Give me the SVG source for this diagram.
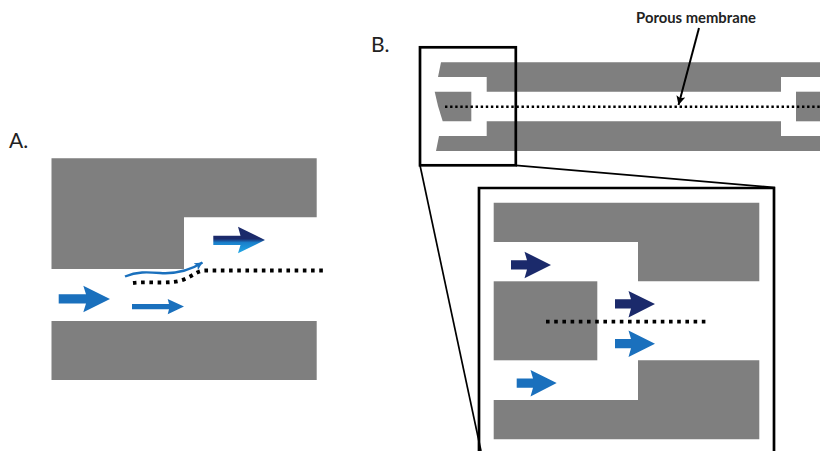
<svg xmlns="http://www.w3.org/2000/svg" width="820" height="451" viewBox="0 0 820 451">
<style>
.g{fill:#7f7f7f}
.blue{fill:#1a70bd}
.navy{fill:#1b2a6b}
.lab{font-family:"Lato","Open Sans",sans-serif;font-size:21px;fill:#222}
.box{fill:none;stroke:#000;stroke-width:2.7}
.lead{fill:none;stroke:#000;stroke-width:1.7}
.dots{fill:none;stroke:#000;stroke-width:3.8;stroke-dasharray:3.6 4.6}
</style>
<defs>
<linearGradient id="grad" x1="0" y1="0" x2="0" y2="1">
<stop offset="0" stop-color="#1b2a6b"/>
<stop offset="0.46" stop-color="#1b2a6b"/>
<stop offset="0.6" stop-color="#1a80cc"/>
<stop offset="1" stop-color="#22a9e6"/>
</linearGradient>
<marker id="tip" markerUnits="userSpaceOnUse" markerWidth="10" markerHeight="10" refX="8" refY="4" orient="auto">
<path d="M0 0L8 4L0 8L2 4Z" fill="#1a70bd"/>
</marker>
<marker id="pt" markerUnits="userSpaceOnUse" markerWidth="12" markerHeight="12" refX="9" refY="5" orient="auto">
<path d="M0 0.5L9 5L0 9.5L2 5Z" fill="#000"/>
</marker>
</defs>
<g id="panel-a">
<text class="lab" x="9" y="148">A.</text>
<path id="a-top" class="g" d="M51.5 158.3H316.7V217.3H184V269H51.5Z"/>
<rect id="a-bottom" class="g" x="51.5" y="321" width="265.2" height="59"/>
<path class="blue" d="M58.7 294.3H86L83.3 285.7L110 299L83.3 312.3L86 303.6H58.7Z"/>
<path class="blue" d="M132 304H169L167.7 299L184 306.5L167.7 314.3L169 309.3H132Z"/>
<path fill="url(#grad)" d="M213.3 235.7H240.5L238 226.7L265 240L238 253.3L240.5 245H213.3Z"/>
<path d="M125 276.5C137 271.5 147 272 160 273C175 274 189 271 202.5 262.5" fill="none" stroke="#1a70bd" stroke-width="2.4" marker-end="url(#tip)"/>
<path class="dots" d="M133 283C150 281 172 285 185 279C194 275 198 270.5 205 270.5H326"/>
</g>
<g id="panel-b">
<text class="lab" x="371" y="52">B.</text>
<text x="696" y="23" text-anchor="middle" font-family="Lato,'Open Sans',sans-serif" font-size="14.8" font-weight="700" fill="#222">Porous membrane</text>
<path class="g" d="M441 62.3H820V77H781V91.7H486.7V77H438Z"/>
<path class="g" d="M439 136H486.7V121.3H781V136H820V151H436Z"/>
<path class="g" d="M434.7 91.7H471.3V121.3H442.7L438 106Z"/>
<rect class="g" x="796" y="91.7" width="24" height="29.6"/>
<path d="M445 106.7H820" fill="none" stroke="#000" stroke-width="2.6" stroke-dasharray="2.4 2.7"/>
<path d="M699 28L678.5 105" fill="none" stroke="#000" stroke-width="2" marker-end="url(#pt)"/>
<rect class="box" x="420" y="47.3" width="95.8" height="118"/>
</g>
<g id="connectors">
<path class="lead" d="M420 165.3L481 451"/>
<path class="lead" d="M515.8 165.3L775 187.5"/>
</g>
<g id="inset">
<path class="box" d="M479 451V188H774V451"/>
<path class="g" d="M493.7 202.7H759.3V281.3H638V242H493.7Z"/>
<rect class="g" x="493.7" y="281.3" width="103.6" height="79"/>
<path class="g" d="M638 360.3H759.3V439.3H493.7V400H638Z"/>
<path class="navy" d="M511 260.3H527L524.5 251.7L551 265L524.5 278.3L527 269.5H511Z"/>
<path class="navy" d="M615 299.3H631L628.5 291L655 304L628.5 317.5L631 308.5H615Z"/>
<path class="blue" d="M615 339H631L628.5 330.5L655 343.7L628.5 357L631 348.2H615Z"/>
<path class="blue" d="M516.7 378.5H533L530.5 370L556.7 383L530.5 396.5L533 387.8H516.7Z"/>
<path class="dots" d="M546 321.7H706"/>
</g>
</svg>
